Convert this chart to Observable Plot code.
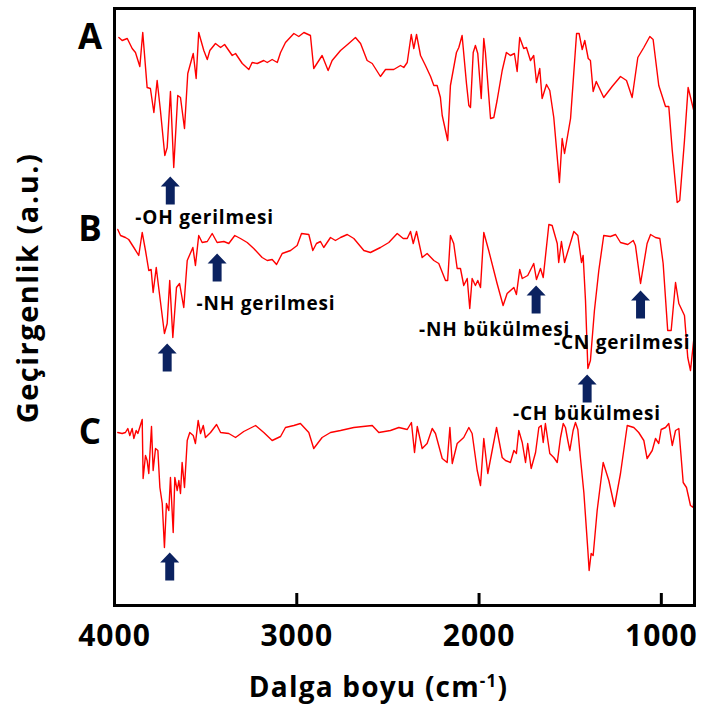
<!DOCTYPE html>
<html>
<head>
<meta charset="utf-8">
<script src="https://cdn.jsdelivr.net/npm/d3@7"></script>
<script src="https://cdn.jsdelivr.net/npm/@observablehq/plot@0.6"></script>
<style>
  html, body { margin: 0; padding: 0; background: white; }
</style>
</head>
<body>
<div id="chart"></div>
<script>
// ---- Data (wavenumber cm^-1, transmittance a.u. with vertical offsets) ----
const seriesNames = ["A", "B", "C"];

const spectrumA = [[3976,568],[3958,565],[3930,567],[3903,557],[3885,553],[3861,539],[3845,573],[3821,518],[3803,517],[3784,493],[3766,525],[3748,495],[3724,450],[3711,458],[3693,514],[3675,438],[3653,510],[3638,508],[3616,477],[3598,532],[3568,552],[3552,527],[3538,573],[3510,555],[3491,546],[3477,555],[3446,562],[3418,558],[3396,561],[3373,555],[3354,550],[3336,552],[3299,542],[3263,536],[3245,543],[3217,542],[3181,545],[3162,543],[3135,546],[3107,543],[3089,553],[3062,563],[3016,572],[2989,569],[2961,573],[2925,570],[2907,537],[2861,550],[2828,535],[2806,545],[2760,555],[2715,562],[2678,568],[2650,562],[2614,545],[2586,542],[2541,529],[2513,536],[2468,536],[2431,540],[2413,538],[2394,543],[2372,571],[2358,557],[2343,571],[2321,550],[2294,540],[2266,529],[2248,520],[2230,520],[2212,508],[2202,490],[2172,465],[2157,520],[2124,553],[2111,558],[2093,570],[2069,522],[2056,500],[2047,498],[2032,553],[2020,560],[2007,552],[1988,507],[1974,567],[1965,553],[1937,487],[1919,488],[1901,505],[1873,535],[1850,553],[1828,550],[1806,552],[1791,534],[1777,568],[1755,557],[1740,558],[1718,545],[1700,550],[1685,523],[1667,537],[1654,507],[1630,521],[1612,515],[1590,488],[1559,423],[1544,467],[1531,452],[1498,487],[1465,572],[1451,572],[1434,556],[1420,565],[1401,547],[1389,545],[1374,514],[1357,524],[1316,508],[1270,519],[1224,529],[1191,525],[1160,508],[1129,548],[1096,558],[1063,569],[1045,566],[1014,520],[977,499],[959,499],[940,455],[913,403],[899,405],[873,465],[853,518],[822,495]];

const spectrumB = [[3982,376],[3967,370],[3940,368],[3922,366],[3894,358],[3867,350],[3848,373],[3830,355],[3812,335],[3799,336],[3788,313],[3771,338],[3757,317],[3726,272],[3711,282],[3697,325],[3680,268],[3660,318],[3643,322],[3620,298],[3601,345],[3570,358],[3556,340],[3538,370],[3519,363],[3491,364],[3464,372],[3437,363],[3400,364],[3373,362],[3340,370],[3309,367],[3272,363],[3236,357],[3190,348],[3162,345],[3135,346],[3111,341],[3080,352],[3034,355],[2998,360],[2974,372],[2934,371],[2912,355],[2892,362],[2870,364],[2852,358],[2815,368],[2788,365],[2760,368],[2723,371],[2687,367],[2632,355],[2596,353],[2541,358],[2495,363],[2449,372],[2416,367],[2394,367],[2376,374],[2361,362],[2343,374],[2312,348],[2285,352],[2248,345],[2221,342],[2184,325],[2172,325],[2157,370],[2139,362],[2120,337],[2102,337],[2084,320],[2065,327],[2051,297],[2038,327],[2020,320],[2007,325],[1992,318],[1974,373],[1947,355],[1901,322],[1868,300],[1846,312],[1809,318],[1795,311],[1777,336],[1763,327],[1733,330],[1700,342],[1685,326],[1663,337],[1648,328],[1617,381],[1599,380],[1571,362],[1563,343],[1548,364],[1531,343],[1480,374],[1458,370],[1438,343],[1429,350],[1416,305],[1403,237],[1389,245],[1367,295],[1343,335],[1316,370],[1279,369],[1251,371],[1224,363],[1184,361],[1154,365],[1142,360],[1114,322],[1078,362],[1059,371],[1032,368],[1008,367],[990,342],[965,275],[946,275],[922,323],[904,302],[873,290],[855,248],[840,235],[818,273]];

const spectrumC = [[3982,173],[3958,172],[3940,173],[3927,177],[3916,170],[3903,177],[3894,167],[3881,175],[3872,172],[3848,186],[3843,127],[3830,150],[3821,145],[3812,132],[3797,179],[3788,135],[3775,157],[3762,155],[3751,118],[3738,102],[3726,58],[3715,102],[3702,95],[3693,128],[3678,73],[3669,128],[3656,115],[3647,125],[3638,112],[3629,143],[3616,118],[3601,165],[3587,173],[3568,170],[3556,162],[3541,185],[3528,172],[3513,180],[3501,168],[3473,173],[3440,181],[3418,173],[3373,172],[3336,168],[3291,174],[3226,180],[3181,173],[3135,165],[3089,169],[3062,178],[3016,180],[2980,182],[2934,173],[2907,157],[2861,168],[2815,173],[2760,175],[2687,178],[2586,180],[2550,173],[2486,175],[2440,178],[2394,176],[2371,183],[2354,153],[2339,179],[2312,157],[2285,162],[2257,177],[2239,172],[2202,147],[2175,143],[2160,178],[2147,142],[2120,162],[2084,168],[2056,178],[2038,172],[2010,135],[1992,120],[1974,167],[1952,132],[1904,178],[1873,148],[1855,145],[1828,143],[1809,155],[1795,152],[1782,175],[1763,163],[1745,143],[1733,162],[1714,137],[1690,153],[1672,178],[1659,180],[1648,163],[1636,182],[1612,152],[1590,148],[1571,143],[1553,168],[1538,182],[1526,178],[1513,165],[1502,155],[1484,175],[1471,183],[1458,176],[1444,148],[1425,113],[1403,55],[1396,35],[1385,52],[1374,50],[1352,95],[1319,143],[1288,125],[1257,99],[1224,132],[1187,180],[1151,178],[1124,173],[1096,165],[1078,147],[1050,155],[1032,167],[1014,162],[1001,176],[977,178],[959,182],[940,160],[922,175],[904,177],[880,123],[862,118],[840,100],[825,98],[817,115]];

const xTicks = [4000, 3000, 2000, 1000];
const innerTicks = [3000, 2000, 1000];

const annotationLabels = ["-OH gerilmesi", "-NH gerilmesi", "-NH bükülmesi", "-CN gerilmesi", "-CH bükülmesi"];
const annotationWn = [3506, 3169, 1915, 1215, 1408];
const annotationT = [388, 302, 276, 263, 192];

const arrowWn = [3694, 3711, 3437, 1687, 1114, 1407, 3697];
const arrowT = [415, 248, 338, 306, 301, 217, 39];

const xTitle = "Dalga boyu (cm-1)";
const yTitle = "Geçirgenlik (a.u.)";

// ---- Build tables ----
const spectra = [spectrumA, spectrumB, spectrumC];
const lineData = spectra.flatMap((s, i) => s.map(([wn, t]) => ({series: seriesNames[i], wn, t})));
const seriesLabels = spectra.map((s, i) => ({name: seriesNames[i], t: s[0][1]}));
const annotations = annotationLabels.map((label, i) => ({label, wn: annotationWn[i], t: annotationT[i]}));
const arrows = arrowWn.map((wn, i) => ({wn, t: arrowT[i]}));

const arrowUp = {
  draw(ctx, size) {
    const s = Math.sqrt(size / Math.PI);
    ctx.moveTo(0, -s);
    ctx.lineTo(0.68 * s, -0.28 * s);
    ctx.lineTo(0.32 * s, -0.28 * s);
    ctx.lineTo(0.32 * s, s);
    ctx.lineTo(-0.32 * s, s);
    ctx.lineTo(-0.32 * s, -0.28 * s);
    ctx.lineTo(-0.68 * s, -0.28 * s);
    ctx.closePath();
  }
};

const navy = "#0b2260";

const chart = Plot.plot({
  width: 703,
  height: 708,
  marginLeft: 114,
  marginRight: 9,
  marginTop: 8,
  marginBottom: 103,
  x: {domain: [4000, 818], axis: null},
  y: {domain: [0, 597], axis: null},
  style: {fontFamily: "'Open Sans', sans-serif", background: "white", color: "black"},
  marks: [
    Plot.line(lineData, {x: "wn", y: "t", z: "series", stroke: "#ff0000", strokeWidth: 1.4, clip: true}),
    Plot.tickX(innerTicks, {x: d => d, stroke: "black", strokeWidth: 3, insetTop: 585}),
    Plot.frame({stroke: "black", strokeWidth: 3}),
    Plot.dot(arrows, {x: "wn", y: "t", symbol: arrowUp, r: 14, fill: navy, stroke: null}),
    Plot.text(annotations, {x: "wn", y: "t", text: "label", fontSize: 19, fontWeight: "bold", fill: "black", lineAnchor: "middle"}),
    Plot.text(seriesLabels, {x: () => 4000, y: "t", text: "name", dx: -24.5, fontSize: 35, fontWeight: "bold", fill: "black", lineAnchor: "middle"}),
    Plot.text(xTicks, {x: d => d, text: d => String(d), frameAnchor: "bottom", dy: 31, fontSize: 30, fontWeight: "bold", fill: "black", lineAnchor: "middle", textAnchor: "middle"}),
    Plot.text([xTitle], {text: d => d, frameAnchor: "bottom", dx: -26, dy: 83, fontSize: 28, fontWeight: "bold", fill: "black", lineAnchor: "middle", textAnchor: "middle"}),
    Plot.text([yTitle], {text: d => d, frameAnchor: "left", rotate: -90, dx: -86, dy: -19, fontSize: 29, fontWeight: "bold", fill: "black", lineAnchor: "middle", textAnchor: "middle"})
  ]
});

document.getElementById("chart").appendChild(chart);

// Letter spacing tweaks (matched by text content) and superscript in x title
const ns = "http://www.w3.org/2000/svg";
chart.querySelectorAll("text").forEach(t => {
  const s = t.textContent;
  if (annotationLabels.includes(s)) t.style.letterSpacing = "0.8px";
  else if (xTicks.map(String).includes(s)) t.style.letterSpacing = "1px";
  else if (s === yTitle) t.style.letterSpacing = "1.5px";
  else if (s === xTitle) {
    t.style.letterSpacing = "1.2px";
    t.textContent = "Dalga boyu (cm";
    const sup = document.createElementNS(ns, "tspan");
    sup.setAttribute("font-size", "17");
    sup.setAttribute("dy", "-10");
    sup.textContent = "-1";
    const close = document.createElementNS(ns, "tspan");
    close.setAttribute("dy", "10");
    close.textContent = ")";
    t.appendChild(sup);
    t.appendChild(close);
  }
});
</script>
</body>
</html>
